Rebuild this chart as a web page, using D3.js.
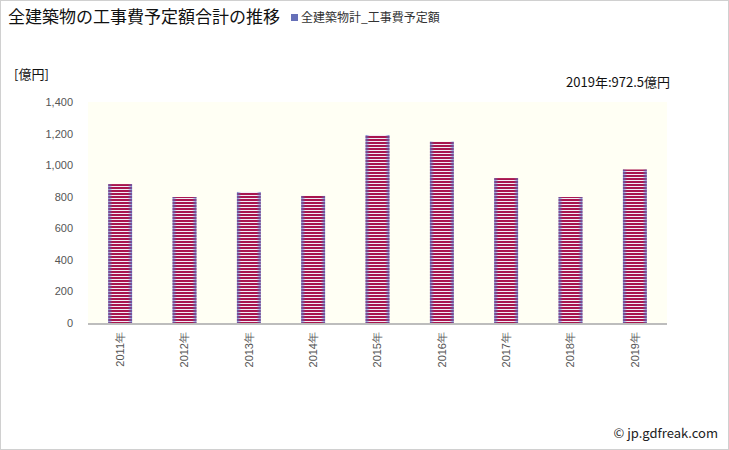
<!DOCTYPE html>
<html><head><meta charset="utf-8">
<script src="https://cdn.jsdelivr.net/npm/d3@7"></script>
<style>body{margin:0;background:#fff;}svg{display:block;font-family:"Noto Sans CJK JP","Noto Sans",sans-serif;}</style>
</head><body><div id="chart"></div>
<script>
const categories = ["2011年","2012年","2013年","2014年","2015年","2016年","2017年","2018年","2019年"];
const values = [880, 798, 830, 805, 1191, 1149, 918, 798, 972.5];
const yTicks = [0, 200, 400, 600, 800, 1000, 1200, 1400];
const titleText = "全建築物の工事費予定額合計の推移";
const legendText = "全建築物計_工事費予定額";
const unitText = "[億円]";
const noteText = "2019年:972.5億円";
const creditText = "© jp.gdfreak.com";

const W = 729, H = 450;
const m = {left: 88, right: 62, top: 102, bottom: 127};
const svg = d3.select("#chart").append("svg").attr("width", W).attr("height", H);
const defs = svg.append("defs");

const pat = defs.append("pattern").attr("id","stripes").attr("patternUnits","userSpaceOnUse")
  .attr("width", 8).attr("height", 3);
pat.append("rect").attr("width",8).attr("height",3).attr("fill","#f2ecf6");
pat.append("rect").attr("y",1).attr("width",8).attr("height",2).attr("fill","#a8154e");

const grad = defs.append("linearGradient").attr("id","edge").attr("x1","0").attr("x2","1").attr("y1","0").attr("y2","0");
[[0,0.8],[0.18,0.0],[0.82,0.0],[1,0.8]].forEach(([o,a])=>grad.append("stop").attr("offset",o).attr("stop-color","#5a6ec0").attr("stop-opacity",a));

svg.append("rect").attr("x",0.5).attr("y",0.5).attr("width",W-1).attr("height",H-1)
  .attr("fill","none").attr("stroke","#d0d0d0");

const x = d3.scaleBand().domain(categories).range([m.left, W - m.right]).paddingInner(0.63).paddingOuter(0.315);
const y = d3.scaleLinear().domain([0,1400]).range([H - m.bottom, m.top]);

svg.append("rect").attr("x", m.left).attr("y", m.top).attr("width", W - m.right - m.left)
  .attr("height", H - m.bottom - m.top).attr("fill","#fffff4");

const bars = svg.append("g");
bars.selectAll("rect.b").data(values).join("rect").attr("class","b")
  .attr("x",(d,i)=>x(categories[i])).attr("width",x.bandwidth())
  .attr("y",d=>y(d)).attr("height",d=>y(0)-y(d)).attr("fill","url(#stripes)");
bars.selectAll("rect.e").data(values).join("rect").attr("class","e")
  .attr("x",(d,i)=>x(categories[i])).attr("width",x.bandwidth())
  .attr("y",d=>y(d)).attr("height",d=>y(0)-y(d)).attr("fill","url(#edge)");

svg.append("line").attr("x1",m.left).attr("x2",W-m.right).attr("y1",y(0)+1).attr("y2",y(0)+1)
  .attr("stroke","#bdbdbd").attr("stroke-width",2);

const yAxis = svg.append("g").attr("transform",`translate(${m.left - 15},0)`)
  .call(d3.axisLeft(y).tickValues(yTicks).tickSize(0).tickFormat(d3.format(",")));
yAxis.select(".domain").remove();
yAxis.selectAll("text").attr("fill","#555").attr("font-size",11).attr("x",0);

const xAxis = svg.append("g").attr("transform",`translate(0,${y(0)})`)
  .call(d3.axisBottom(x).tickSize(0));
xAxis.select(".domain").remove();
xAxis.selectAll("text").attr("fill","#555").attr("font-size",11)
  .attr("transform","rotate(-90)").attr("text-anchor","end").attr("dy","0.35em").attr("x",-9).attr("y",0);

svg.append("text").attr("x",8).attr("y",23).attr("font-size",17).attr("fill","#111").text(titleText);
svg.append("rect").attr("x",291).attr("y",14).attr("width",7).attr("height",7).attr("fill","#6670b8");
svg.append("text").attr("x",301).attr("y",22).attr("font-size",12).attr("fill","#333").text(legendText);
svg.append("text").attr("x",14).attr("y",79).attr("font-size",13).attr("fill","#111").text(unitText);
svg.append("text").attr("x",670).attr("y",87).attr("text-anchor","end").attr("font-size",13).attr("fill","#111").text(noteText);
svg.append("text").attr("x",718).attr("y",438).attr("text-anchor","end").attr("font-size",13).attr("fill","#222").text(creditText);
</script></body></html>
